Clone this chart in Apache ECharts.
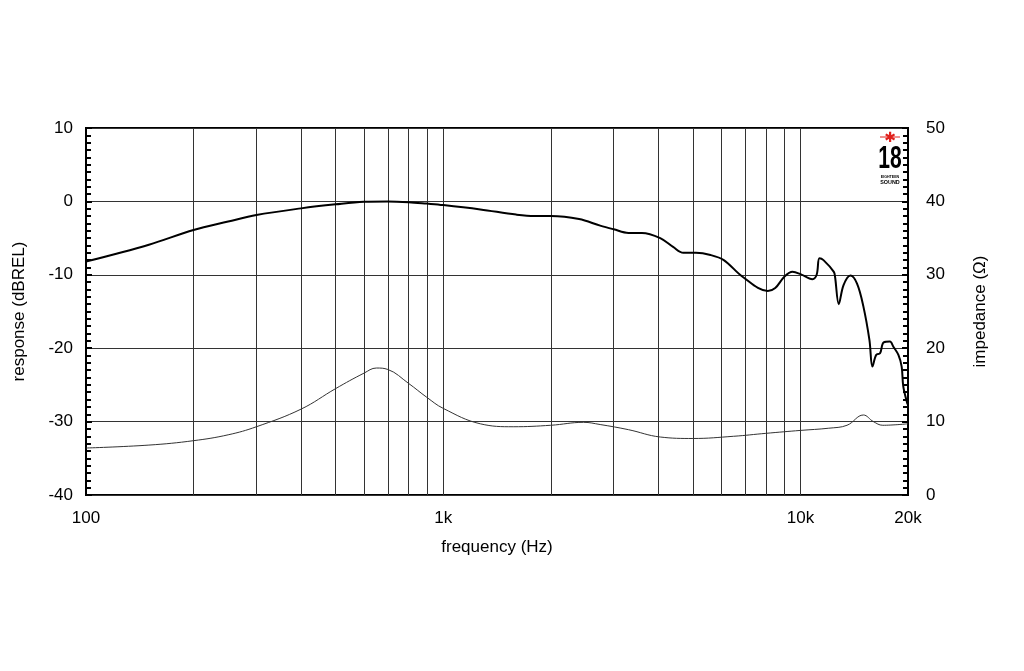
<!DOCTYPE html>
<html>
<head>
    <meta charset="utf-8">
    <title>ECharts</title>
    <script src="https://cdn.jsdelivr.net/npm/echarts@6/dist/echarts.min.js"></script>
    <style>
        html, body { margin: 0; padding: 0; background: #fff; }
    </style>
</head>
<body>

<div id="main" style="width: 1024px;height:671px;"></div>

<script type="text/javascript">

    // response curve (dB, left axis)
    var respFreq = [100, 150, 200, 250, 300, 400, 500, 600, 700, 800, 900, 1000, 1270, 1600, 1800, 2000, 2400, 2750, 3000, 3300, 3600, 4050, 4400, 4700, 5100, 5600, 6100, 6900, 8100, 8500, 9000, 9500, 10000, 10800, 11100, 11300, 11600, 12400, 12500, 12800, 13200, 13800, 14400, 15000, 15600, 15900, 16300, 16700, 17100, 17800, 18200, 18800, 19200, 19400, 19900, 20000];
    var respDb = [-8.2, -5.9, -3.9, -2.75, -1.85, -0.95, -0.4, -0.05, 0, -0.1, -0.3, -0.5, -1.1, -1.8, -2.0, -2.0, -2.4, -3.3, -3.8, -4.3, -4.3, -5.0, -6.2, -7.0, -7.0, -7.3, -8.0, -10.3, -12.2, -11.8, -10.3, -9.6, -9.9, -10.6, -10.0, -7.75, -8.0, -9.6, -10.3, -14.0, -11.4, -10.1, -11.2, -14.3, -18.9, -22.5, -20.9, -20.7, -19.2, -19.1, -19.8, -20.9, -22.5, -25.2, -27.5, -27.7];

    // impedance curve (ohm, right axis)
    var impFreq = [100, 150, 200, 250, 300, 400, 500, 600, 650, 700, 800, 900, 1000, 1270, 1570, 2000, 2470, 2750, 3300, 4050, 5000, 6500, 8000, 10000, 12000, 13500, 15000, 16000, 17000, 20000];
    var impOhm = [6.4, 6.8, 7.4, 8.2, 9.3, 11.7, 14.5, 16.6, 17.3, 17.1, 15.2, 13.3, 11.8, 9.7, 9.3, 9.5, 9.9, 9.6, 8.9, 7.9, 7.7, 8.0, 8.4, 8.8, 9.1, 9.5, 10.9, 10.0, 9.5, 9.7];

    // vertical grid lines
    var gridFreqs = [200, 300, 400, 500, 600, 700, 800, 900, 1000, 2000, 3000, 4000, 5000, 6000, 7000, 8000, 9000, 10000];

    function pairs(xs, ys) {
        return xs.map(function (x, i) { return [x, ys[i]]; });
    }

    var font = 'Liberation Sans, Arial, sans-serif';
    var myChart = echarts.init(document.getElementById('main'));

    myChart.setOption({
        animation: false,
        backgroundColor: '#fff',
        grid: {
            left: 86, right: 116, top: 128, bottom: 176,
            show: true, borderColor: '#000', borderWidth: 2,
            containLabel: false
        },
        xAxis: {
            type: 'log',
            logBase: 10,
            min: 100,
            max: 20000,
            name: 'frequency (Hz)',
            nameLocation: 'middle',
            nameGap: 44,
            nameTextStyle: { color: '#000', fontSize: 17, fontFamily: font },
            axisLine: { show: false },
            axisTick: { show: false },
            splitLine: { show: false },
            axisLabel: {
                color: '#000', fontSize: 17, fontFamily: font, margin: 15,
                showMinLabel: true, showMaxLabel: true,
                formatter: function (v) {
                    v = Math.round(v);
                    return v >= 1000 ? (v / 1000) + 'k' : String(v);
                }
            }
        },
        yAxis: [{
            type: 'value',
            min: -40, max: 10, interval: 10,
            name: 'response (dBREL)',
            nameLocation: 'middle',
            nameGap: 58,
            nameTextStyle: { color: '#000', fontSize: 17, fontFamily: font },
            axisLine: { show: false },
            axisTick: { show: true, inside: true, length: 6, lineStyle: { color: '#000', width: 2 } },
            minorTick: { show: true, splitNumber: 10, length: 5, lineStyle: { color: '#000', width: 2 } },
            splitLine: { show: true, lineStyle: { color: '#333', width: 1 } },
            axisLabel: { color: '#000', fontSize: 17, fontFamily: font, margin: 13 }
        }, {
            type: 'value',
            min: 0, max: 50, interval: 10,
            name: 'impedance (Ω)',
            nameLocation: 'middle',
            nameGap: 64,
            nameTextStyle: { color: '#000', fontSize: 17, fontFamily: font },
            axisLine: { show: false },
            axisTick: { show: true, inside: true, length: 6, lineStyle: { color: '#000', width: 2 } },
            minorTick: { show: true, splitNumber: 10, length: 5, lineStyle: { color: '#000', width: 2 } },
            splitLine: { show: false },
            axisLabel: { color: '#000', fontSize: 17, fontFamily: font, margin: 18 }
        }],
        series: [{
            name: 'impedance',
            type: 'line',
            yAxisIndex: 1,
            data: pairs(impFreq, impOhm),
            smooth: 0.4,
            showSymbol: false,
            lineStyle: { color: '#333', width: 1 },
            z: 3
        }, {
            name: 'response',
            type: 'line',
            yAxisIndex: 0,
            data: pairs(respFreq, respDb),
            smooth: 0.35,
            showSymbol: false,
            lineStyle: { color: '#000', width: 2 },
            z: 4,
            markLine: {
                silent: true,
                symbol: 'none',
                label: { show: false },
                lineStyle: { color: '#333', width: 1, type: 'solid' },
                data: gridFreqs.map(function (f) { return { xAxis: f }; }),
                z: 1
            }
        }],
        // 18 Sound logo, top right corner
        graphic: [
            { type: 'line', shape: { x1: 880, y1: 137, x2: 900, y2: 137 }, style: { stroke: '#e0201c', lineWidth: 1 } },
            { type: 'text', x: 890, y: 138, style: { text: '✱', fill: '#e0201c', align: 'center', verticalAlign: 'middle', font: 'bold 14px DejaVu Sans' } },
            { type: 'text', x: 890, y: 159, scaleX: 0.68, style: { text: '18', fill: '#000', align: 'center', verticalAlign: 'middle', font: 'bold 31px ' + font } },
            { type: 'text', x: 890, y: 177, scaleX: 0.9, style: { text: 'EIGHTEEN', fill: '#000', align: 'center', verticalAlign: 'middle', font: 'bold 4px ' + font } },
            { type: 'text', x: 890, y: 182, scaleX: 0.9, style: { text: 'SOUND', fill: '#000', align: 'center', verticalAlign: 'middle', font: 'bold 6px ' + font } }
        ]
    });

</script>
</body>
</html>
